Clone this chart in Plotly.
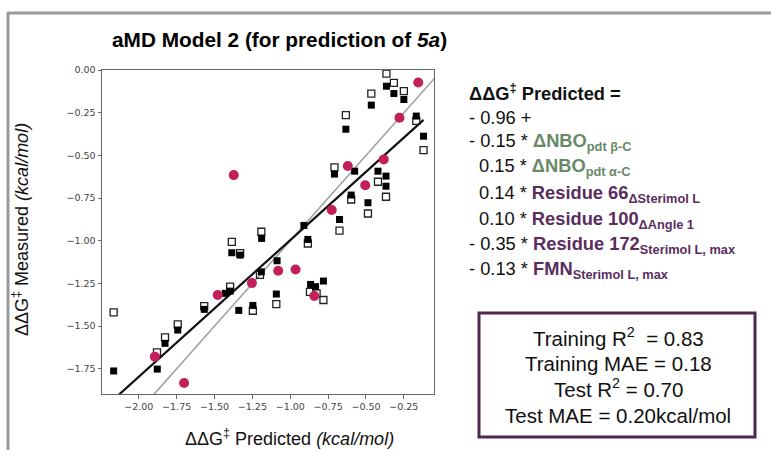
import plotly.graph_objects as go

# ---------------- data ----------------
train_pred = [-2.166, -1.878, -1.827, -1.743, -1.568, -1.429, -1.397, -1.386, -1.331, -1.340,
              -1.247, -1.189, -1.191, -1.087, -1.092, -0.910, -0.884, -0.866, -0.833, -0.781,
              -0.708, -0.675, -0.633, -0.598, -0.575, -0.487, -0.465, -0.421, -0.368, -0.368,
              -0.365, -0.316, -0.250, -0.168, -0.120]
train_meas = [-1.763, -1.752, -1.601, -1.523, -1.402, -1.308, -1.295, -1.070, -1.084, -1.408,
              -1.379, -0.986, -1.182, -1.117, -1.312, -0.910, -0.992, -1.256, -1.269, -1.236,
              -0.609, -0.875, -0.346, -0.732, -0.592, -0.777, -0.205, -0.592, -0.621, -0.680,
              -0.094, -0.137, -0.172, -0.269, -0.387]

open_pred = [-2.166, -1.880, -1.827, -1.743, -1.568, -1.397, -1.386, -1.331, -1.247, -1.191,
             -1.200, -1.092, -0.884, -0.870, -0.826, -0.781, -0.708, -0.675, -0.633, -0.598,
             -0.487, -0.465, -0.421, -0.368, -0.365, -0.316, -0.250, -0.168, -0.120]
open_meas = [-1.420, -1.654, -1.566, -1.490, -1.383, -1.269, -1.006, -1.072, -1.410, -0.947,
             -1.200, -1.371, -1.016, -1.299, -1.308, -1.347, -0.570, -0.941, -0.264, -0.758,
             -0.840, -0.137, -0.654, -0.742, -0.020, -0.074, -0.123, -0.297, -0.469]

test_pred = [-1.894, -1.701, -1.479, -1.373, -1.253, -1.080, -0.965, -0.841, -0.726, -0.620,
             -0.505, -0.383, -0.279, -0.155]
test_meas = [-1.679, -1.834, -1.318, -0.615, -1.248, -1.176, -1.168, -1.324, -0.820, -0.562,
             -0.674, -0.523, -0.279, -0.072]

fit_slope = 0.801
fit_intercept = -0.195
fit_x_range = [min(train_pred), max(train_pred)]
identity_range = [-2.4, 0.0]

x_ticks = [-2.00, -1.75, -1.50, -1.25, -1.00, -0.75, -0.50, -0.25]
y_ticks = [0.00, -0.25, -0.50, -0.75, -1.00, -1.25, -1.50, -1.75]

GREEN = "#678a66"
PURPLE = "#5a2d5f"
title_text = "<b>aMD Model 2 (for prediction of <i>5a</i>)</b>"
equation_lines = [
    ("<b>ΔΔG<sup>‡</sup> Predicted =</b>", 0),
    ("- 0.96 +", 0),
    (f"- 0.15 * <b><span style='color:{GREEN}'>ΔNBO<sub>pdt β-C</sub></span></b>", 0),
    (f"0.15 * <b><span style='color:{GREEN}'>ΔNBO<sub>pdt α-C</sub></span></b>", 1),
    (f"0.14 * <b><span style='color:{PURPLE}'>Residue 66<sub>ΔSterimol L</sub></span></b>", 1),
    (f"0.10 * <b><span style='color:{PURPLE}'>Residue 100<sub>ΔAngle 1</sub></span></b>", 1),
    (f"- 0.35 * <b><span style='color:{PURPLE}'>Residue 172<sub>Sterimol L, max</sub></span></b>", 0),
    (f"- 0.13 * <b><span style='color:{PURPLE}'>FMN<sub>Sterimol L, max</sub></span></b>", 0),
]
stats_lines = ["Training R<sup>2</sup>\u00a0 = 0.83", "Training MAE = 0.18",
               "Test R<sup>2</sup> = 0.70", "Test MAE = 0.20kcal/mol"]

# ---------------- layout geometry ----------------
W, H = 771, 450
ML, MR, MT, MB = 102, 337, 70, 56
PW, PH = W - ML - MR, H - MT - MB


def px(x):
    return (x - ML) / PW


def py(y):
    return (H - MB - y) / PH


SANS = "Liberation Sans, Arial, Helvetica, sans-serif"
TICKF = "DejaVu Sans, sans-serif"

fig = go.Figure()

# identity line
fig.add_trace(go.Scatter(x=identity_range, y=identity_range, mode="lines",
                         line=dict(color="#a0a0a0", width=1.6), hoverinfo="skip",
                         showlegend=False))
# regression line
fit_y = [fit_slope * v + fit_intercept for v in fit_x_range]
fig.add_trace(go.Scatter(x=fit_x_range, y=fit_y, mode="lines",
                         line=dict(color="#111111", width=2.2), hoverinfo="skip",
                         showlegend=False))
# open squares
fig.add_trace(go.Scatter(x=open_pred, y=open_meas, mode="markers",
                         marker=dict(symbol="square-open", size=7, color="#222222",
                                     line=dict(width=1.3, color="#222222")),
                         showlegend=False))
# filled squares
fig.add_trace(go.Scatter(x=train_pred, y=train_meas, mode="markers",
                         marker=dict(symbol="square", size=7, color="#000000",
                                     line=dict(width=0)),
                         showlegend=False))
# test circles
fig.add_trace(go.Scatter(x=test_pred, y=test_meas, mode="markers",
                         marker=dict(symbol="circle", size=10, color="#c21f5b",
                                     line=dict(width=0)),
                         showlegend=False))

axis_common = dict(showline=True, mirror=True, linecolor="#666666", linewidth=1,
                   ticks="outside", ticklen=3.5, tickwidth=1, tickcolor="#666666",
                   showgrid=False, zeroline=False, tickformat=".2f",
                   tickfont=dict(family=TICKF, size=9.5, color="#444444"))

fig.update_layout(
    width=W, height=H, autosize=False,
    margin=dict(l=ML, r=MR, t=MT, b=MB, pad=0),
    paper_bgcolor="white", plot_bgcolor="white",
    xaxis=dict(range=[-2.243, -0.051], tickvals=x_ticks, **axis_common),
    yaxis=dict(range=[-1.898, 0.001], tickvals=y_ticks, **axis_common),
    font=dict(family=SANS, color="#111111"),
)

ann = []
# title
ann.append(dict(text=title_text, x=px(279), y=py(39), xref="paper", yref="paper",
                xanchor="center", yanchor="middle", showarrow=False,
                font=dict(family=SANS, size=20.8, color="#000000")))
# axis titles
ann.append(dict(text="ΔΔG<sup>‡</sup> Predicted <i>(kcal/mol)</i>", x=px(289), y=py(437),
                xref="paper", yref="paper", xanchor="center", yanchor="middle",
                showarrow=False, font=dict(family=SANS, size=18, color="#111111")))
ann.append(dict(text="ΔΔG<sup>‡</sup> Measured <i>(kcal/mol)</i>", x=px(20), y=py(230),
                xref="paper", yref="paper", xanchor="center", yanchor="middle",
                textangle=-90, showarrow=False,
                font=dict(family=SANS, size=18, color="#111111")))
# equation
eq_y = [92, 117, 142, 167, 194, 220, 245, 270]
for (txt, indent), yy in zip(equation_lines, eq_y):
    xx = 467 if indent == 0 else 477
    ann.append(dict(text=txt, x=px(xx), y=py(yy), xref="paper", yref="paper",
                    xanchor="left", yanchor="middle", showarrow=False, align="left",
                    font=dict(family=SANS, size=18.3, color="#111111")))
# stats
st_y = [337, 363, 388, 415]
for txt, yy in zip(stats_lines, st_y):
    ann.append(dict(text=txt, x=px(618), y=py(yy), xref="paper", yref="paper",
                    xanchor="center", yanchor="middle", showarrow=False,
                    font=dict(family=SANS, size=20.5, color="#111111")))
fig.update_layout(annotations=ann)

shapes = [
    # outer frame
    dict(type="line", xref="paper", yref="paper", x0=px(7), x1=px(771), y0=py(13), y1=py(13),
         line=dict(color="#9a9a9a", width=3)),
    dict(type="line", xref="paper", yref="paper", x0=px(8), x1=px(8), y0=py(13), y1=py(450),
         line=dict(color="#9a9a9a", width=3)),
    # stats box
    dict(type="rect", xref="paper", yref="paper", x0=px(479), x1=px(755), y0=py(313), y1=py(437),
         line=dict(color="#4e2651", width=3), fillcolor="rgba(0,0,0,0)"),
]
fig.update_layout(shapes=shapes)

fig.write_html("out.html")
